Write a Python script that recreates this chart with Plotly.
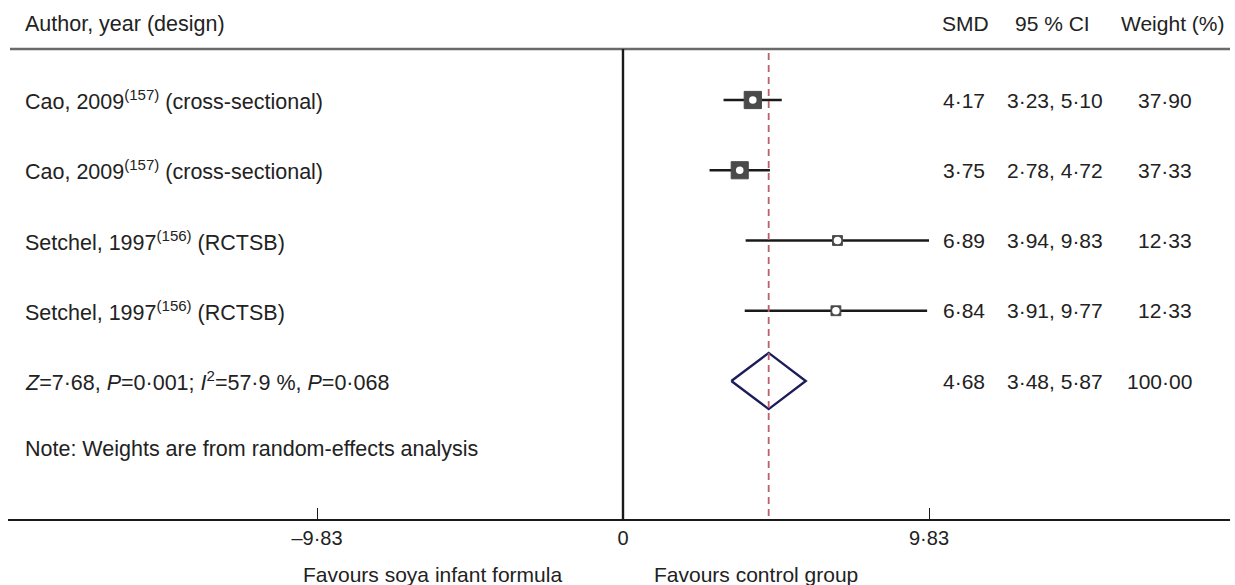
import plotly.graph_objects as go

# ---------------- data ----------------
study_labels = [
    "Cao, 2009<sup>(157)</sup> (cross-sectional)",
    "Cao, 2009<sup>(157)</sup> (cross-sectional)",
    "Setchel, 1997<sup>(156)</sup> (RCTSB)",
    "Setchel, 1997<sup>(156)</sup> (RCTSB)",
]
smd = [4.17, 3.75, 6.89, 6.84]
ci_low = [3.23, 2.78, 3.94, 3.91]
ci_high = [5.10, 4.72, 9.83, 9.77]
weights = [37.90, 37.33, 12.33, 12.33]

smd_text = ["4·17", "3·75", "6·89", "6·84"]
ci_text = ["3·23, 5·10", "2·78, 4·72", "3·94, 9·83", "3·91, 9·77"]
weight_text = ["37·90", "37·33", "12·33", "12·33"]

overall_label = "<i>Z</i>=7·68, <i>P</i>=0·001; <i>I</i><sup>2</sup>=57·9 %, <i>P</i>=0·068"
overall_smd = 4.68
overall_low = 3.48
overall_high = 5.87
overall_smd_text = "4·68"
overall_ci_text = "3·48, 5·87"
overall_weight_text = "100·00"

tick_vals = [-9.83, 0, 9.83]
tick_text = ["–9·83", "0", "9·83"]

header_labels = ["Author, year (design)", "SMD", "95 % CI", "Weight (%)"]
note_text = "Note: Weights are from random-effects analysis"
favours_left = "Favours soya infant formula"
favours_right = "Favours control group"

# ---------------- layout geometry ----------------
W, H = 1235, 585
ML, MR, MT, MB = 8, 5, 0, 66
plot_w = W - ML - MR
plot_h = H - MT - MB
zero_px = 623          # pixel of x=0
unit_px = 306 / 9.83   # pixels per SMD unit
x_range = [-(zero_px - ML) / unit_px, (W - MR - zero_px) / unit_px]

row_px0, row_step = 100, 70.25
y_range = [1 + (plot_h - row_px0) / row_step, 1 - row_px0 / row_step]

def py(px):  # pixel y -> paper y
    return 1 - (px - MT) / plot_h

def pxx(px):  # pixel x -> paper x
    return (px - ML) / plot_w

rows = list(range(1, len(smd) + 1))
overall_row = len(smd) + 1

FONT = "Liberation Sans, Arial, sans-serif"
FS = 21
LFS = 21.5
TXT = "#222222"

fig = go.Figure()

# CI lines
for r, lo, hi in zip(rows, ci_low, ci_high):
    fig.add_trace(go.Scatter(x=[lo, hi], y=[r, r], mode="lines",
                             line=dict(color="#1a1a1a", width=2.4),
                             hoverinfo="skip", showlegend=False))

# weight boxes
box_sizes = [2.8 * (w ** 0.5) for w in weights]
fig.add_trace(go.Scatter(x=smd, y=rows, mode="markers",
                         marker=dict(symbol="square", size=box_sizes, color="#4a4a4a",
                                     opacity=1, line=dict(color="#4a4a4a", width=1)),
                         hoverinfo="skip", showlegend=False))
fig.add_trace(go.Scatter(x=smd, y=rows, mode="markers",
                         marker=dict(symbol="circle", size=7.5, color="white",
                                     opacity=1, line=dict(width=0)),
                         hoverinfo="skip", showlegend=False))

# overall diamond
dh = 0.40
fig.add_trace(go.Scatter(
    x=[overall_low, overall_smd, overall_high, overall_smd, overall_low],
    y=[overall_row, overall_row - dh, overall_row, overall_row + dh, overall_row],
    mode="lines", line=dict(color="#1c1c5a", width=2.4),
    hoverinfo="skip", showlegend=False))

shapes = []
# header rule
shapes.append(dict(type="line", xref="paper", yref="paper", x0=pxx(10), x1=pxx(1230),
                   y0=py(49), y1=py(49), line=dict(color="#6a6a6a", width=2.4)))
# zero line
shapes.append(dict(type="line", xref="x", yref="paper", x0=0, x1=0,
                   y0=py(49), y1=0, line=dict(color="#1a1a1a", width=2.4)))
# overall dashed line
shapes.append(dict(type="line", xref="x", yref="paper", x0=overall_smd, x1=overall_smd,
                   y0=py(53), y1=0, line=dict(color="#b8616b", width=1.8, dash="7px,5px")))
fig.update_layout(shapes=shapes)

ann = []
lf = dict(family=FONT, size=LFS, color=TXT)
# header
ann.append(dict(x=pxx(23), y=py(24), xref="paper", yref="paper", text=header_labels[0],
                xanchor="left", yanchor="middle", showarrow=False, font=lf))
ann.append(dict(x=pxx(991), y=py(24), xref="paper", yref="paper", text=header_labels[1],
                xanchor="right", yanchor="middle", showarrow=False))
ann.append(dict(x=pxx(1052), y=py(24), xref="paper", yref="paper", text=header_labels[2],
                xanchor="center", yanchor="middle", showarrow=False))
ann.append(dict(x=pxx(1226), y=py(24), xref="paper", yref="paper", text=header_labels[3],
                xanchor="right", yanchor="middle", showarrow=False))

all_labels = study_labels + [overall_label]
all_smd = smd_text + [overall_smd_text]
all_ci = ci_text + [overall_ci_text]
all_w = weight_text + [overall_weight_text]
for r, lab, s, c, w in zip(rows + [overall_row], all_labels, all_smd, all_ci, all_w):
    ann.append(dict(x=pxx(23), y=r, xref="paper", yref="y", text=lab,
                    xanchor="left", yanchor="middle", showarrow=False, font=lf))
    ann.append(dict(x=pxx(987), y=r, xref="paper", yref="y", text=s,
                    xanchor="right", yanchor="middle", showarrow=False))
    ann.append(dict(x=pxx(1105), y=r, xref="paper", yref="y", text=c,
                    xanchor="right", yanchor="middle", showarrow=False))
    ann.append(dict(x=pxx(1194), y=r, xref="paper", yref="y", text=w,
                    xanchor="right", yanchor="middle", showarrow=False))

ann.append(dict(x=pxx(23), y=py(449), xref="paper", yref="paper", text=note_text,
                xanchor="left", yanchor="middle", showarrow=False, font=lf))
ann.append(dict(x=pxx(564), y=py(574), xref="paper", yref="paper", text=favours_left,
                xanchor="right", yanchor="middle", showarrow=False))
ann.append(dict(x=pxx(652), y=py(574), xref="paper", yref="paper", text=favours_right,
                xanchor="left", yanchor="middle", showarrow=False))
fig.update_layout(annotations=ann)

fig.update_xaxes(range=x_range, tickvals=tick_vals, ticktext=tick_text,
                 ticks="inside", ticklen=11, tickwidth=1.2, tickcolor="#1a1a1a",
                 showline=True, linecolor="#1a1a1a", linewidth=2.2,
                 showgrid=False, zeroline=False,
                 tickfont=dict(family=FONT, size=20, color=TXT))
fig.update_yaxes(range=y_range, visible=False, showgrid=False, zeroline=False)

fig.update_layout(width=W, height=H,
                  margin=dict(l=ML, r=MR, t=MT, b=MB),
                  paper_bgcolor="white", plot_bgcolor="white",
                  font=dict(family=FONT, size=FS, color=TXT),
                  showlegend=False)

fig.write_html("out.html")
